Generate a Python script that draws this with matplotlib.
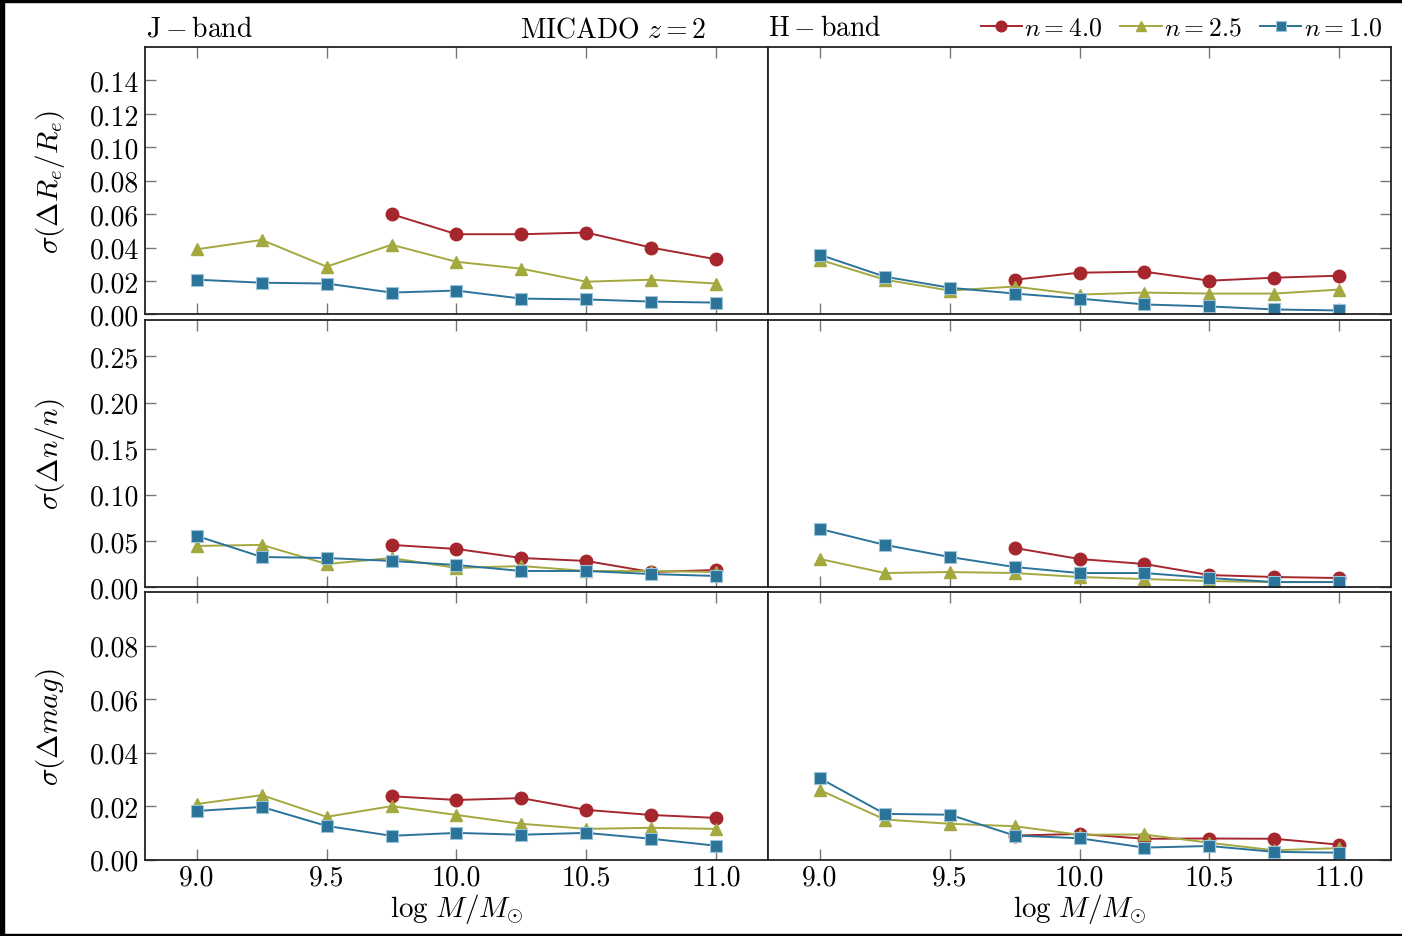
import matplotlib
matplotlib.use('Agg')
import matplotlib.pyplot as plt
from matplotlib.patches import Rectangle

plt.rcParams['font.family'] = 'serif'
plt.rcParams['font.serif'] = ['cmr10']
plt.rcParams['mathtext.fontset'] = 'cm'
plt.rcParams['axes.formatter.use_mathtext'] = True
plt.rcParams['axes.unicode_minus'] = False

# stellar mass bins
logm = [9.0, 9.25, 9.5, 9.75, 10.0, 10.25, 10.5, 10.75, 11.0]
logm_n4 = [9.75, 10.0, 10.25, 10.5, 10.75, 11.0]

# sigma(dRe/Re)
re_J_n4 = [0.060, 0.048, 0.048, 0.049, 0.040, 0.033]
re_J_n25 = [0.039, 0.0446, 0.0286, 0.0417, 0.0315, 0.0274, 0.0196, 0.0208, 0.0185]
re_J_n1 = [0.0208, 0.019, 0.0185, 0.0131, 0.0143, 0.0095, 0.009, 0.0077, 0.0071]
re_H_n4 = [0.0208, 0.025, 0.0256, 0.0202, 0.022, 0.0232]
re_H_n25 = [0.0327, 0.0208, 0.0143, 0.0167, 0.0119, 0.0131, 0.0125, 0.0125, 0.0149]
re_H_n1 = [0.0357, 0.0226, 0.016, 0.0125, 0.0095, 0.006, 0.0048, 0.003, 0.0024]

# sigma(dn/n)
n_J_n4 = [0.0457, 0.0413, 0.0315, 0.0283, 0.0163, 0.0185]
n_J_n25 = [0.0446, 0.0457, 0.025, 0.0315, 0.0207, 0.0228, 0.0174, 0.0174, 0.0163]
n_J_n1 = [0.0554, 0.0326, 0.0315, 0.0283, 0.0239, 0.0174, 0.0174, 0.0141, 0.012]
n_H_n4 = [0.0424, 0.0304, 0.025, 0.013, 0.0109, 0.0098]
n_H_n25 = [0.0304, 0.0152, 0.0163, 0.0152, 0.0109, 0.0087, 0.0065, 0.0054, 0.0054]
n_H_n1 = [0.063, 0.0457, 0.0326, 0.0217, 0.0152, 0.0152, 0.0098, 0.0054, 0.0054]

# sigma(dmag)
mag_J_n4 = [0.0237, 0.0223, 0.023, 0.0186, 0.0167, 0.0156]
mag_J_n25 = [0.0208, 0.0241, 0.016, 0.020, 0.0167, 0.0134, 0.0115, 0.0119, 0.0115]
mag_J_n1 = [0.0182, 0.0197, 0.0126, 0.0089, 0.010, 0.0093, 0.010, 0.0078, 0.0052]
mag_H_n4 = [0.009, 0.0096, 0.0078, 0.0079, 0.0078, 0.0056]
mag_H_n25 = [0.026, 0.015, 0.0134, 0.0125, 0.0093, 0.0094, 0.0063, 0.0035, 0.0043]
mag_H_n1 = [0.0304, 0.0171, 0.0168, 0.009, 0.008, 0.0045, 0.0051, 0.0029, 0.0026]

rows = [
    (re_J_n4, re_J_n25, re_J_n1, re_H_n4, re_H_n25, re_H_n1),
    (n_J_n4, n_J_n25, n_J_n1, n_H_n4, n_H_n25, n_H_n1),
    (mag_J_n4, mag_J_n25, mag_J_n1, mag_H_n4, mag_H_n25, mag_H_n1),
]
ylabels = [r'$\sigma(\Delta R_e/R_e)$', r'$\sigma(\Delta n/n)$', r'$\sigma(\Delta mag)$']
ylims = [0.16, 0.29, 0.10]
yticks = [[0.0, 0.02, 0.04, 0.06, 0.08, 0.10, 0.12, 0.14],
          [0.0, 0.05, 0.10, 0.15, 0.20, 0.25],
          [0.0, 0.02, 0.04, 0.06, 0.08]]

red = '#a6262e'
olive = '#a3a83f'
blue = '#2b7399'

fig, axes = plt.subplots(3, 2, figsize=(14.02, 9.37), dpi=100)
fig.subplots_adjust(left=0.1034, right=0.9922, bottom=0.0815, top=0.9488,
                    hspace=0.019, wspace=0.0)

for i, row in enumerate(rows):
    for j in range(2):
        ax = axes[i, j]
        d4, d25, d1 = row[3 * j], row[3 * j + 1], row[3 * j + 2]
        l4, = ax.plot(logm_n4, d4, '-o', color=red, lw=1.4, ms=9,
                      mec=red, label=r'$n=4.0$')
        l25, = ax.plot(logm, d25, '-^', color=olive, lw=1.4, ms=9,
                       mec=olive, label=r'$n=2.5$')
        l1, = ax.plot(logm, d1, '-s', color=blue, lw=1.4, ms=9,
                      mec='#9cc4d8', mew=0.8, label=r'$n=1.0$')
        ax.set_xlim(8.8, 11.2)
        ax.set_ylim(0, ylims[i])
        ax.set_xticks([9.0, 9.5, 10.0, 10.5, 11.0])
        ax.set_yticks(yticks[i])
        for s in ax.spines.values():
            s.set_linewidth(1.3)
            s.set_color('#222222')
        ax.tick_params(direction='in', length=8, width=1, color='#777777',
                       labelsize=20, top=True)
        ax.tick_params(axis='x', pad=3)
        ax.tick_params(axis='y', pad=4)
        if j == 0:
            ax.tick_params(left=True, right=False)
            ax.set_yticklabels(['%.2f' % v for v in yticks[i]])
            ax.set_ylabel(ylabels[i], fontsize=21)
            ax.yaxis.set_label_coords(-0.125, 0.5)
        else:
            ax.tick_params(left=False, right=True, labelleft=False)
        if i < 2:
            ax.tick_params(labelbottom=False)
        else:
            ax.set_xticklabels(['9.0', '9.5', '10.0', '10.5', '11.0'])
            ax.set_xlabel(r'$\log\,M/M_{\odot}$', fontsize=21)
            ax.xaxis.set_label_coords(0.5, -0.118)

fig.text(146 / 1402, 0.969, r'$\mathrm{J-band}$', fontsize=20, va='center', ha='left')
fig.text(520 / 1402, 0.968, r'$\mathrm{MICADO}\ z=2$', fontsize=20, va='center', ha='left')
fig.text(768 / 1402, 0.969, r'$\mathrm{H-band}$', fontsize=20, va='center', ha='left')

fig.legend(handles=[l4, l25, l1], loc='center right', bbox_to_anchor=(0.993, 0.969),
           ncol=3, frameon=False, fontsize=18.5, handlelength=1.6, handletextpad=0.1,
           columnspacing=0.7, markerscale=0.85, borderaxespad=0)

# black frame on the scanned image edges
fig.patches.append(Rectangle((0, 1 - 3 / 937), 1, 3 / 937, transform=fig.transFigure,
                             color='black', zorder=10))
fig.patches.append(Rectangle((0, 0), 4 / 1402, 1, transform=fig.transFigure,
                             color='black', zorder=10))
fig.patches.append(Rectangle((0, 0), 1, 2.5 / 937, transform=fig.transFigure,
                             color='black', zorder=10))

fig.savefig('out.png', dpi=100)
